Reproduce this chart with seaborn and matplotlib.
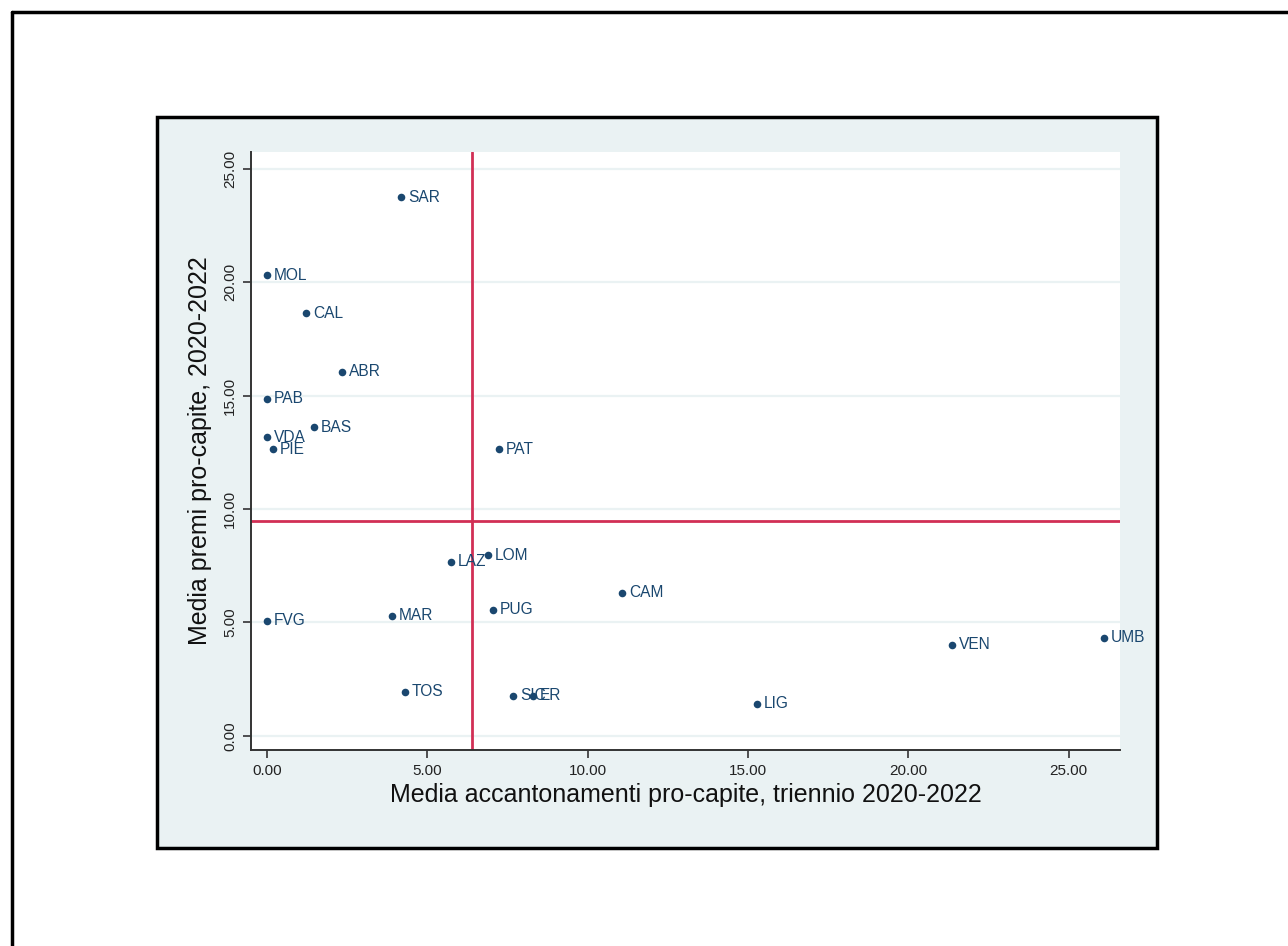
import numpy as np
import pandas as pd
import matplotlib.pyplot as plt
import seaborn as sns
from matplotlib.patches import Rectangle
from matplotlib.lines import Line2D
from matplotlib import font_manager

sns.set_style("white")

# dati
regioni = ["SAR", "MOL", "CAL", "ABR", "PAB", "BAS", "VDA", "PIE", "PAT", "LAZ", "LOM",
           "CAM", "PUG", "MAR", "FVG", "VEN", "UMB", "TOS", "SIC", "ER", "LIG"]
accantonamenti = [4.18, 0.00, 1.22, 2.34, 0.00, 1.47, 0.00, 0.19, 7.23, 5.74, 6.89,
                  11.07, 7.05, 3.90, 0.00, 21.36, 26.10, 4.30, 7.67, 8.29, 15.28]
premi = [23.74, 20.30, 18.63, 16.04, 14.85, 13.61, 13.17, 12.64, 12.64, 7.67, 7.97,
         6.30, 5.55, 5.29, 5.07, 4.01, 4.32, 1.94, 1.76, 1.76, 1.41]
x_ticks = [0, 5, 10, 15, 20, 25]
y_ticks = [0, 5, 10, 15, 20, 25]

df = pd.DataFrame({"reg": regioni, "x": accantonamenti, "y": premi})

names = {f.name for f in font_manager.fontManager.ttflist}
narrow = "Liberation Sans Narrow" if "Liberation Sans Narrow" in names else "Liberation Sans"
regular = "Liberation Sans"
plt.rcParams["font.family"] = [regular, "DejaVu Sans"]

navy = "#1a476f"
red = "#d12f55"
bg = "#eaf2f3"

fig = plt.figure(figsize=(12.88, 9.46), dpi=100)

# cornice esterna (solo lati sinistro e superiore visibili)
fig.add_artist(Line2D([12/1288, 12/1288], [0, 1-12/946], color="black", lw=2.5,
                      transform=fig.transFigure))
fig.add_artist(Line2D([12/1288, 1], [1-12/946, 1-12/946], color="black", lw=2.5,
                      transform=fig.transFigure))

# regione del grafico
fig.add_artist(Rectangle((157/1288, 1-848/946), 1000/1288, 731/946, facecolor=bg,
                         edgecolor="black", lw=2.5, transform=fig.transFigure, zorder=0))

ax = fig.add_axes([251/1288, 1-750/946, 869/1288, 598/946])
ax.set_facecolor("white")

for t in y_ticks:
    ax.axhline(t, color=bg, lw=1.6, zorder=0)

ax.axvline(np.mean(accantonamenti), color=red, lw=2, zorder=1)
ax.axhline(np.mean(premi), color=red, lw=2, zorder=1)

sns.scatterplot(data=df, x="x", y="y", ax=ax, color=navy, s=30, edgecolor=navy,
                linewidth=0, zorder=3, legend=False)

for _, r in df.iterrows():
    ax.annotate(r["reg"], (r["x"], r["y"]), xytext=(5, 0), textcoords="offset points",
                va="center", ha="left", fontsize=11.2, color=navy, zorder=4)

ax.set_xlim(-0.5, 26.6)
ax.set_ylim(-0.62, 25.73)
ax.set_xticks(x_ticks)
ax.set_yticks(y_ticks)
ax.set_xticklabels([f"{t:.2f}" for t in x_ticks], fontsize=11, family=narrow)
ax.set_yticklabels([f"{t:.2f}" for t in y_ticks], fontsize=11, family=narrow,
                   rotation=90, va="center")
ax.tick_params(axis="both", direction="out", length=6, width=1.2, color="#333333",
               labelcolor="#222222", pad=4, left=True, bottom=True)

for s in ["top", "right"]:
    ax.spines[s].set_visible(False)
for s in ["left", "bottom"]:
    ax.spines[s].set_color("#333333")
    ax.spines[s].set_linewidth(1.4)

ax.set_xlabel("Media accantonamenti pro-capite, triennio 2020-2022", fontsize=18,
              family=narrow, color="#111111", labelpad=4)
ax.set_ylabel("Media premi pro-capite, 2020-2022", fontsize=18, family=narrow,
              color="#111111", labelpad=8)

fig.savefig("out.png", dpi=100, facecolor="white")
